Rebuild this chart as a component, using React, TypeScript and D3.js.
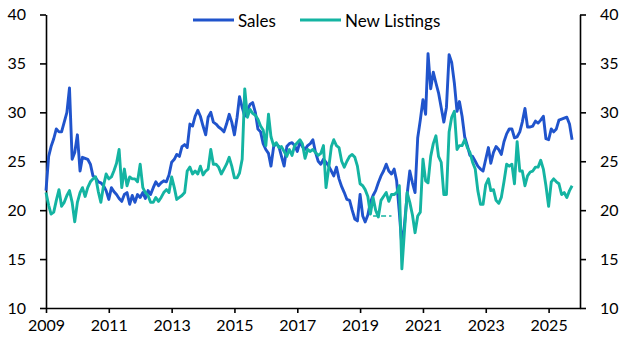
import React, { useEffect, useRef } from 'react';
import * as d3 from 'd3';

// monthly, Jan 2009 onwards
const startYear = 2009;

const salesValues = [
  22.0, 25.5, 26.5, 27.3, 28.3, 28.0, 28.0, 29.0, 30.0, 32.5, 25.2, 25.9,
  27.7, 24.0, 25.4, 25.3, 25.2, 24.7, 23.5, 23.3, 22.9, 22.8, 22.5, 22.0,
  21.1, 22.3, 21.9, 21.6, 21.2, 20.9, 21.6, 21.8, 20.6, 21.5, 20.8, 21.6,
  21.3, 21.8, 21.2, 22.0, 21.6, 22.3, 22.9, 22.5, 22.8, 23.0, 22.9,
  23.6, 24.9, 25.2, 25.7, 25.5, 26.5, 26.7, 26.4, 28.8, 28.6, 29.6, 30.2,
  29.6, 28.6, 27.7, 29.5, 30.0, 29.0, 28.8, 28.5, 28.3, 28.0, 28.8, 29.8,
  29.0, 27.7, 29.5, 31.6, 30.5, 29.6, 30.2, 30.8, 31.0, 30.0, 28.3, 28.0,
  26.8, 26.2, 25.8, 24.5, 26.5, 26.8, 26.5, 25.5, 24.5, 26.5, 26.8, 26.9,
  26.6, 26.0, 27.0, 26.5, 26.2, 26.6, 26.8, 27.2, 25.9, 25.0, 24.7, 25.2,
  24.9, 24.5, 24.0, 23.5, 24.4, 23.2, 22.4, 21.8, 21.1, 21.0, 20.0, 19.1,
  18.9, 21.6, 19.4, 18.8, 19.5, 20.8, 21.5, 22.0, 22.8, 23.5, 24.0, 24.7,
  24.0, 23.7, 24.2, 23.0, 19.8, 16.3, 18.6, 21.6, 24.0, 22.8, 21.8, 27.4,
  29.2, 31.3, 29.8, 36.0, 32.4, 34.1, 33.0, 32.0, 30.5, 29.0, 30.5, 35.9,
  35.1, 33.0, 30.1, 31.1, 29.6, 27.5, 26.6, 25.6, 25.5, 25.0, 24.5, 24.2,
  24.0, 25.2, 26.4, 24.8, 25.9, 26.5, 26.2, 25.7, 27.0, 27.8, 28.3, 28.3,
  27.4, 27.5, 28.0, 29.0, 30.4, 28.5, 28.5, 28.6, 29.1, 28.9, 29.2, 29.6,
  27.3, 27.2, 28.3, 28.0, 28.3, 29.2, 29.3, 29.4, 29.5, 28.8, 27.2,
];

const listingsValues = [
  21.8, 20.5, 19.6, 19.8, 21.0, 22.1, 20.4, 20.8, 21.5, 22.0, 20.8, 18.8,
  20.8, 21.8, 22.3, 21.4, 22.3, 22.9, 23.2, 23.4, 21.9, 20.8, 22.5, 23.7,
  23.2, 23.4, 24.0, 24.8, 26.2, 22.3, 24.2, 22.5, 23.4, 23.2, 23.2, 22.9,
  24.7, 22.3, 21.8, 21.5, 20.8, 20.8, 21.3, 20.9, 21.3, 21.8, 22.1,
  21.8, 23.4, 22.3, 21.1, 21.3, 21.5, 21.8, 24.0, 24.4, 23.7, 24.0, 23.7,
  24.5, 23.6, 24.0, 24.2, 26.2, 24.7, 24.7, 24.4, 23.7, 24.2, 24.7, 25.4,
  24.5, 23.3, 23.3, 23.8, 25.2, 32.4, 29.5, 30.3, 29.9, 29.7, 29.3, 28.6,
  28.2, 26.6, 29.8, 27.5, 26.6, 26.9, 26.4, 26.5, 26.0, 25.5, 26.2, 25.6,
  26.6, 26.9, 27.2, 26.8, 25.3, 26.2, 26.0, 26.2, 25.9, 25.6, 25.8, 26.6,
  22.3, 24.3, 26.5, 27.2, 26.6, 26.4, 25.0, 24.4, 25.0, 25.5, 25.7, 25.4,
  24.5, 22.7, 22.5, 22.1, 21.4, 19.6, 21.3, 20.0, 19.3, 21.0, 21.4, 21.8,
  20.9, 21.6, 21.6, 21.8, 22.5, 14.0, 18.0, 21.8, 20.8, 19.5, 17.7, 19.4,
  19.8, 25.2, 23.0, 22.8, 25.5, 26.8, 27.6, 25.5, 24.9, 21.6, 21.6, 28.0,
  29.5, 30.1, 26.2, 26.6, 26.6, 27.2, 26.4, 25.9, 24.9, 24.2, 22.0, 20.6,
  20.6, 22.6, 23.2, 22.0, 22.1, 21.0, 20.7, 21.3, 22.9, 24.7, 24.5, 24.7,
  22.7, 27.0, 24.0, 24.0, 22.5, 23.5, 23.9, 24.0, 24.4, 24.4, 25.1, 24.2,
  22.5, 20.4, 22.9, 23.2, 22.9, 22.7, 21.6, 21.8, 21.3, 22.0, 22.5,
];

// short dashed piece under the listings line in 2019
const listingsDashed = [
  { year: 2019, month: 5, value: 19.4 },
  { year: 2020, month: 0, value: 19.4 },
];

const yTicks = [10, 15, 20, 25, 30, 35, 40];
const xTickYears = [2009, 2011, 2013, 2015, 2017, 2019, 2021, 2023, 2025];
const seriesNames = ['Sales', 'New Listings'];

const SALES_COLOR = '#2054cc';
const LISTINGS_COLOR = '#14b4a2';
const FONT = 'Lato, "Open Sans", sans-serif';

const App = () => {
  const ref = useRef<SVGSVGElement>(null);

  useEffect(() => {
    document.body.style.margin = '0';
    if (!ref.current) return;

    const svg = d3.select(ref.current);
    svg.selectAll('*').remove();

    const x = d3.scaleTime()
      .domain([new Date(2009, 0, 1), new Date(2026, 0, 1)])
      .range([46, 580]);

    const y = d3.scaleLinear()
      .domain([10, 40])
      .range([308, 14.5]);

    const toPoints = (vals: number[]) =>
      vals.map((v, i) => ({ date: new Date(startYear, i, 1), value: v }));

    const line = d3.line<{ date: Date; value: number }>()
      .x(d => x(d.date))
      .y(d => y(d.value));

    // axes
    const styleAxis = (g: any) => {
      g.select('.domain').attr('stroke', '#000').attr('stroke-width', 1.6);
      g.selectAll('.tick line').attr('stroke', '#000').attr('stroke-width', 1.6);
      g.selectAll('.tick text')
        .attr('fill', '#000')
        .style('font-family', FONT)
        .style('font-size', '16px');
    };

    svg.append('g')
      .attr('transform', `translate(46,0)`)
      .call(d3.axisLeft(y).tickValues(yTicks).tickSize(6).tickSizeOuter(0).tickPadding(14))
      .call(styleAxis);

    svg.append('g')
      .attr('transform', `translate(580,0)`)
      .call(d3.axisRight(y).tickValues(yTicks).tickSize(6).tickSizeOuter(0).tickPadding(14))
      .call(styleAxis);

    svg.append('g')
      .attr('transform', `translate(0,308)`)
      .call(d3.axisBottom(x)
        .tickValues(xTickYears.map(yr => new Date(yr, 0, 1)))
        .tickFormat(d3.timeFormat('%Y') as any)
        .tickSize(5)
        .tickSizeOuter(0)
        .tickPadding(7))
      .call(styleAxis);

    // series
    svg.append('path')
      .datum(toPoints(salesValues))
      .attr('fill', 'none')
      .attr('stroke', SALES_COLOR)
      .attr('stroke-width', 2.9)
      .attr('stroke-linejoin', 'round')
      .attr('d', line);

    svg.append('path')
      .datum(listingsDashed.map(d => ({ date: new Date(d.year, d.month, 1), value: d.value })))
      .attr('fill', 'none')
      .attr('stroke', LISTINGS_COLOR)
      .attr('stroke-width', 1.6)
      .attr('stroke-dasharray', '5,3')
      .attr('d', line);

    svg.append('path')
      .datum(toPoints(listingsValues))
      .attr('fill', 'none')
      .attr('stroke', LISTINGS_COLOR)
      .attr('stroke-width', 2.9)
      .attr('stroke-linejoin', 'round')
      .attr('d', line);

    // legend
    const legend = svg.append('g').attr('transform', 'translate(0,20)');
    const legendItems = [
      { name: seriesNames[0], color: SALES_COLOR, x0: 193 },
      { name: seriesNames[1], color: LISTINGS_COLOR, x0: 300 },
    ];
    legendItems.forEach(item => {
      legend.append('line')
        .attr('x1', item.x0).attr('x2', item.x0 + 41)
        .attr('y1', 0).attr('y2', 0)
        .attr('stroke', item.color)
        .attr('stroke-width', 2.9);
      legend.append('text')
        .attr('x', item.x0 + 45)
        .attr('y', 0)
        .attr('dominant-baseline', 'central')
        .style('font-family', FONT)
        .style('font-size', '17px')
        .attr('fill', '#000')
        .text(item.name);
    });
  }, []);

  return <svg ref={ref} width={630} height={354} style={{ display: 'block' }} />;
};

export default App;
